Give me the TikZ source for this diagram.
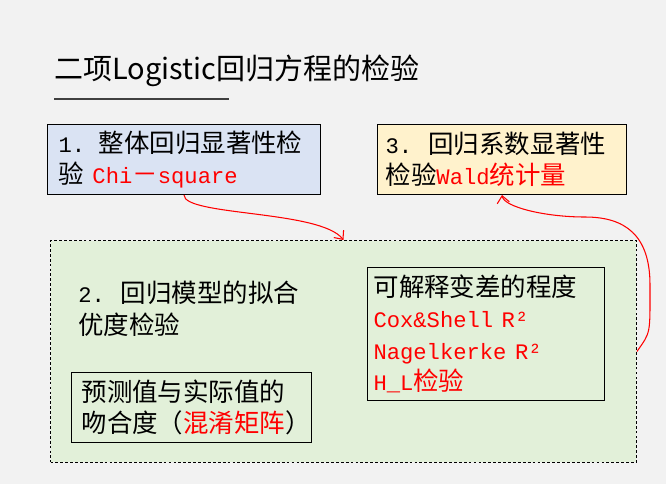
\documentclass[tikz,border=0pt]{standalone}
\usepackage{fontspec}
\setmainfont{Noto Sans CJK SC}
\newfontfamily\mono[Scale=0.87]{Liberation Mono}
\usetikzlibrary{arrows.meta}
\definecolor{bg}{HTML}{F2F2F2}
\definecolor{boxblue}{HTML}{DAE3F3}
\definecolor{boxyellow}{HTML}{FFF2CC}
\definecolor{boxgreen}{HTML}{E2F0D9}
\definecolor{rulegray}{HTML}{404040}
\newcommand{\rd}[1]{\textcolor{red}{#1}}
\newcommand{\boxfont}{\fontsize{14.5pt}{17.9pt}\selectfont}

\begin{document}
\begin{tikzpicture}[x=0.02cm,y=-0.02cm,
        box/.style={draw, line width=0.6pt, anchor=north west, align=left,
            inner ysep=0pt, minimum height=1.4cm, font=\boxfont},
        link/.style={red, line width=0.6pt, -{Straight Barb[length=4pt,width=7pt]}}]
        \fill[bg] (0,0) rectangle (666,484);
        % title
        \node[anchor=base west, inner sep=0, font=\fontsize{16.5pt}{19pt}\selectfont] (title) at (54,79) {二项Logistic回归方程的检验};
        \draw[rulegray, line width=1.1pt] (54,99) -- (229,99);
        % top boxes
        \node[box, fill=boxblue, text width=5.02cm, inner xsep=0.22cm] (whole) at (47,124)
            {{\mono 1.}\hspace{0.27cm}整体回归显著性检\\验{\mono\ }\rd{{\mono Chi}－{\mono square}}};
        \node[box, fill=boxyellow, text width=4.66cm, inner xsep=0.16cm] (coef) at (377,124)
            {{\mono 3.}\hspace{0.32cm}回归系数显著性\\检验\rd{{\mono Wald}统计量}};
        % goodness of fit
        \node[draw, fill=boxgreen, line width=0.6pt, dash pattern=on 1.6pt off 1.2pt, anchor=north west,
            minimum width=11.72cm, minimum height=4.44cm] (fitbox) at (50,240) {};
        \node[anchor=north west, inner sep=0, align=left, font=\boxfont] (fitlabel) at (78,281)
            {{\mono 2.}\hspace{0.32cm}回归模型的拟合\\优度检验};
        \node[box, text width=4.4cm, inner xsep=0.2cm] (confusion) at (71,372)
            {预测值与实际值的\\吻合度（\rd{混淆矩阵}）};
        \node[box, text width=4.5cm, inner xsep=0.12cm, minimum height=2.66cm] (variance) at (367,267)
            {可解释变差的程度\\
             \rd{\mono Cox\&Shell R²}\\
             \rd{\mono Nagelkerke R²}\\
             \rd{{\mono H\_L}检验}};
        % connectors
        \draw[link] (whole.south) .. controls +(0,21) and +(-23,-30) .. (fitbox.north);
        \draw[link] (fitbox.east) .. controls +(14,-20) and +(0,50) .. (650,285)
            .. controls +(0,-50) and +(40,0) .. (585,217)
            .. controls +(-40,0) and +(2,12) .. (coef.south);
\end{tikzpicture}
\end{document}
